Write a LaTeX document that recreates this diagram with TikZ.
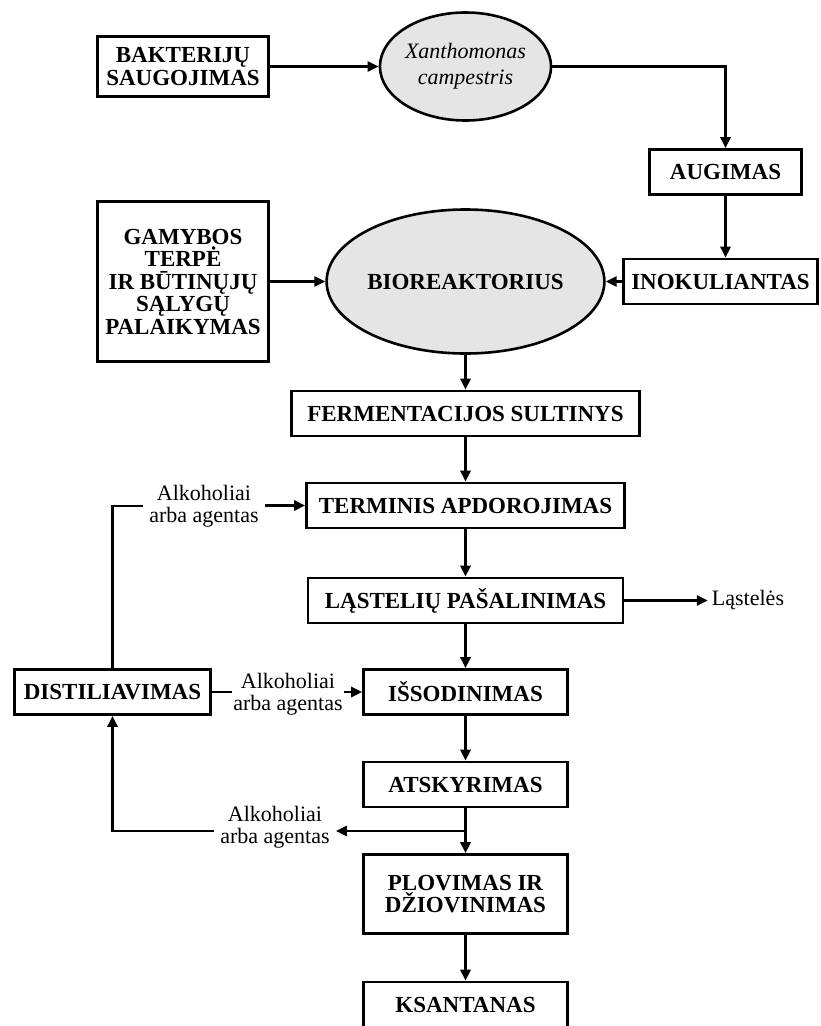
\documentclass[tikz,border=0pt]{standalone}
\usepackage{fontspec}
\setmainfont{Liberation Serif}
\usetikzlibrary{shapes.geometric,arrows.meta}
\begin{document}
\begin{tikzpicture}[x=1pt,y=1pt]
	\tikzstyle{every node}+=[inner sep=0pt, font=\fontsize{22}{22}\selectfont]
	\tikzstyle{box}=[draw=black, line width=2.6pt, fill=white, align=center, font=\fontsize{23}{22.5}\selectfont\bfseries]
	\tikzstyle{cell}=[ellipse, draw=black, line width=2.6pt, fill=black!10, align=center]
	\tikzstyle{lin}=[black, line width=2.6pt]
	\tikzstyle{arr}=[lin, -{Triangle[length=11pt,width=10pt]}]
	\tikzstyle{side}=[align=center, inner xsep=6pt]
	\useasboundingbox (0,0) rectangle (820,-1026);
	\node [box, minimum width=171, minimum height=60] (bakt) at (183,-66.5) {BAKTERIJŲ\\SAUGOJIMAS};
	\node [cell, minimum width=171, minimum height=108, font=\fontsize{22}{26}\selectfont\itshape] (xanth) at (465.5,-66.5) {Xanthomonas\\campestris};
	\node [box, minimum width=152, minimum height=45] (augimas) at (725.5,-172) {AUGIMAS};
	\node [box, minimum width=171, minimum height=160] (gamybos) at (183,-281.5) {GAMYBOS\\TERPĖ\\IR BŪTINŲJŲ\\SĄLYGŲ\\PALAIKYMAS};
	\node [cell, minimum width=228, minimum height=144, font=\fontsize{23}{22}\selectfont\bfseries] (bioreak) at (465.5,-281.5) {BIOREAKTORIUS};
	\node [box, minimum width=194, minimum height=45] (inok) at (720.5,-281.5) {INOKULIANTAS};
	\node [box, minimum width=348, minimum height=45] (ferm) at (465.5,-413.5) {FERMENTACIJOS SULTINYS};
	\node [box, minimum width=318, minimum height=45] (term) at (465.5,-505.5) {TERMINIS APDOROJIMAS};
	\node [box, minimum width=315, minimum height=45] (last) at (465.5,-600.5) {LĄSTELIŲ PAŠALINIMAS};
	\node [side, inner xsep=4pt] (lastel) at (748,-600.5) {Ląstelės};
	\node [box, minimum width=204, minimum height=45] (iss) at (465.5,-692) {IŠSODINIMAS};
	\node [box, minimum width=196, minimum height=45] (dist) at (112.5,-692) {DISTILIAVIMAS};
	\node [box, minimum width=204, minimum height=45] (atsk) at (465.5,-784.5) {ATSKYRIMAS};
	\node [box, minimum width=204, minimum height=79] (plov) at (465.5,-894) {PLOVIMAS IR\\DŽIOVINIMAS};
	\node [box, minimum width=204, minimum height=45] (ksan) at (465.5,-1004.5) {KSANTANAS};
	\node [side] (alk1) at (204,-506) {Alkoholiai\\arba agentas};
	\node [side, inner xsep=1pt] (alk2) at (288,-694) {Alkoholiai\\arba agentas};
	\node [side] (alk3) at (275,-827) {Alkoholiai\\arba agentas};
	\coordinate (split) at (465.5,-831);
	\draw [arr] (bakt) -- (xanth);
	\draw [arr] (xanth.east) -| (augimas.north);
	\draw [arr] (augimas.south) -- (augimas.south |- inok.north);
	\draw [arr] (gamybos) -- (bioreak);
	\draw [arr] (inok) -- (bioreak);
	\draw [arr] (bioreak) -- (ferm);
	\draw [arr] (ferm) -- (term);
	\draw [arr] (term) -- (last);
	\draw [arr] (last) -- (lastel);
	\draw [arr] (last) -- (iss);
	\draw [arr] (iss) -- (atsk);
	\draw [arr] (atsk) -- (plov);
	\draw [arr] (plov) -- (ksan);
	\draw [lin] (dist.north) |- (alk1.west);
	\draw [arr] (alk1.east |- term.west) -- (term.west);
	\draw [lin] (dist.east) -- (dist.east -| alk2.west);
	\draw [arr] (alk2.east |- iss.west) -- (iss.west);
	\draw [arr] (split) -- (split -| alk3.east);
	\draw [arr] (split -| alk3.west) -| (dist.south);
\end{tikzpicture}
\end{document}
